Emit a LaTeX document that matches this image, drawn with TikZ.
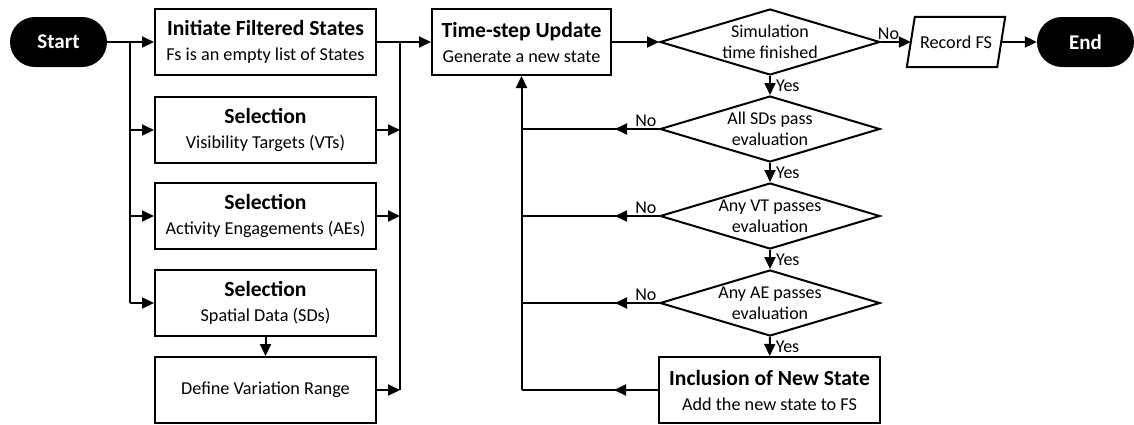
\documentclass[tikz,border=0pt]{standalone}
\usepackage{fontspec}
\setmainfont{Carlito}
\usetikzlibrary{arrows.meta,shapes.geometric}
\newcommand\boxtitle[1]{{\bfseries\fontsize{21.6}{25}\selectfont #1}}
\begin{document}
\begin{tikzpicture}[x=1pt,y=-1pt,
  every node/.style={font=\fontsize{18.2}{25}\selectfont},
  conn/.style={line width=2pt},
  arr/.style={conn,-{Triangle[length=12pt,width=11pt]}},
  box/.style={draw,line width=2pt,minimum width=221pt,minimum height=66pt,align=center,inner sep=0pt},
  term/.style={fill=black,text=white,rounded corners=25pt,minimum width=97pt,minimum height=50pt,font=\bfseries\fontsize{21}{25}\selectfont},
  dec/.style={diamond,draw,line width=2pt,aspect=3.33,minimum width=220pt,minimum height=66pt,inner sep=0pt},
  dtext/.style={align=center,inner sep=0pt,font=\fontsize{18}{21}\selectfont},
  lab/.style={font=\fontsize{18}{21}\selectfont,inner sep=1pt},
  io/.style={minimum width=90pt,minimum height=50pt,inner sep=0pt},
  ioframe/.style={line width=2pt,line join=miter},
]
\useasboundingbox (0,0) rectangle (1134,424);

% left column: start and preparation steps
\node[term] (start) at (58.5,42) {Start};
\node[box] (ifs) at (265.5,42) {\boxtitle{Initiate Filtered States}\\Fs is an empty list of States};
\node[box] (vt) at (265.5,130) {\boxtitle{Selection}\\Visibility Targets (VTs)};
\node[box] (ae) at (265.5,216) {\boxtitle{Selection}\\Activity Engagements (AEs)};
\node[box] (sd) at (265.5,303) {\boxtitle{Selection}\\Spatial Data (SDs)};
\node[box] (dvr) at (265.5,390) {Define Variation Range};

% simulation loop
\node[box,minimum width=179pt] (ts) at (521.5,42) {\boxtitle{Time-step Update}\\Generate a new state};
\node[dec] (d1) at (770,42) {};
\node[dtext] (d1t) at (d1) {Simulation\\time finished};
\node[dec] (d2) at (770,129) {};
\node[dtext] (d2t) at (d2) {All SDs pass\\evaluation};
\node[dec] (d3) at (770,216) {};
\node[dtext] (d3t) at (d3) {Any VT passes\\evaluation};
\node[dec] (d4) at (770,303) {};
\node[dtext] (d4t) at (d4) {Any AE passes\\evaluation};
\node[box] (inc) at (769.5,390) {\boxtitle{Inclusion of New State}\\Add the new state to FS};

% output (parallelogram) and end
\node[io] (rec) at (956,42) {Record FS};
\draw[ioframe] ([xshift=4pt]rec.north west) -- ([xshift=4pt]rec.north east)
  -- ([xshift=-4pt]rec.south east) -- ([xshift=-4pt]rec.south west) -- cycle;
\node[term] (end) at (1085.5,42) {End};

% fan-out from start
\coordinate (jl) at (130,42);
\draw[arr] (start) -- (ifs);
\draw[conn] (jl) -- (jl |- sd.west);
\foreach \n in {vt,ae,sd} \draw[arr] (jl |- \n.west) -- (\n.west);
\draw[arr] (sd) -- (dvr);

% fan-in to the time-step update
\coordinate (jr) at (400,42);
\draw[arr] (ifs) -- (ts);
\draw[conn] (jr) -- (jr |- dvr.east);
\foreach \n in {vt,ae,dvr} \draw[arr] (\n.east) -- (jr |- \n.east);

% main chain
\draw[arr] (ts) -- (d1);
\draw[arr] (d1) -- node[lab,above,pos=0.25]{No} (rec);
\draw[arr] (rec) -- (end);
\draw[arr] (d1) -- node[lab,right,xshift=4pt]{Yes} (d2);
\draw[arr] (d2) -- node[lab,right,xshift=4pt]{Yes} (d3);
\draw[arr] (d3) -- node[lab,right,xshift=4pt]{Yes} (d4);
\draw[arr] (d4) -- node[lab,right,xshift=4pt]{Yes} (inc);

% feedback to the time-step update
\coordinate (fb) at (ts.south |- inc.west);
\draw[conn] (inc.west) -- (fb);
\draw[arr] (inc.west) -- ++(-44,0);
\draw[arr] (fb) -- (ts.south);
\foreach \n in {d2,d3,d4} {
  \draw[conn] (\n.west) -- (\n.west -| fb);
  \draw[arr] (\n.west) -- node[lab,above,pos=0.3]{No} ++(-44,0);
}
\end{tikzpicture}
\end{document}
